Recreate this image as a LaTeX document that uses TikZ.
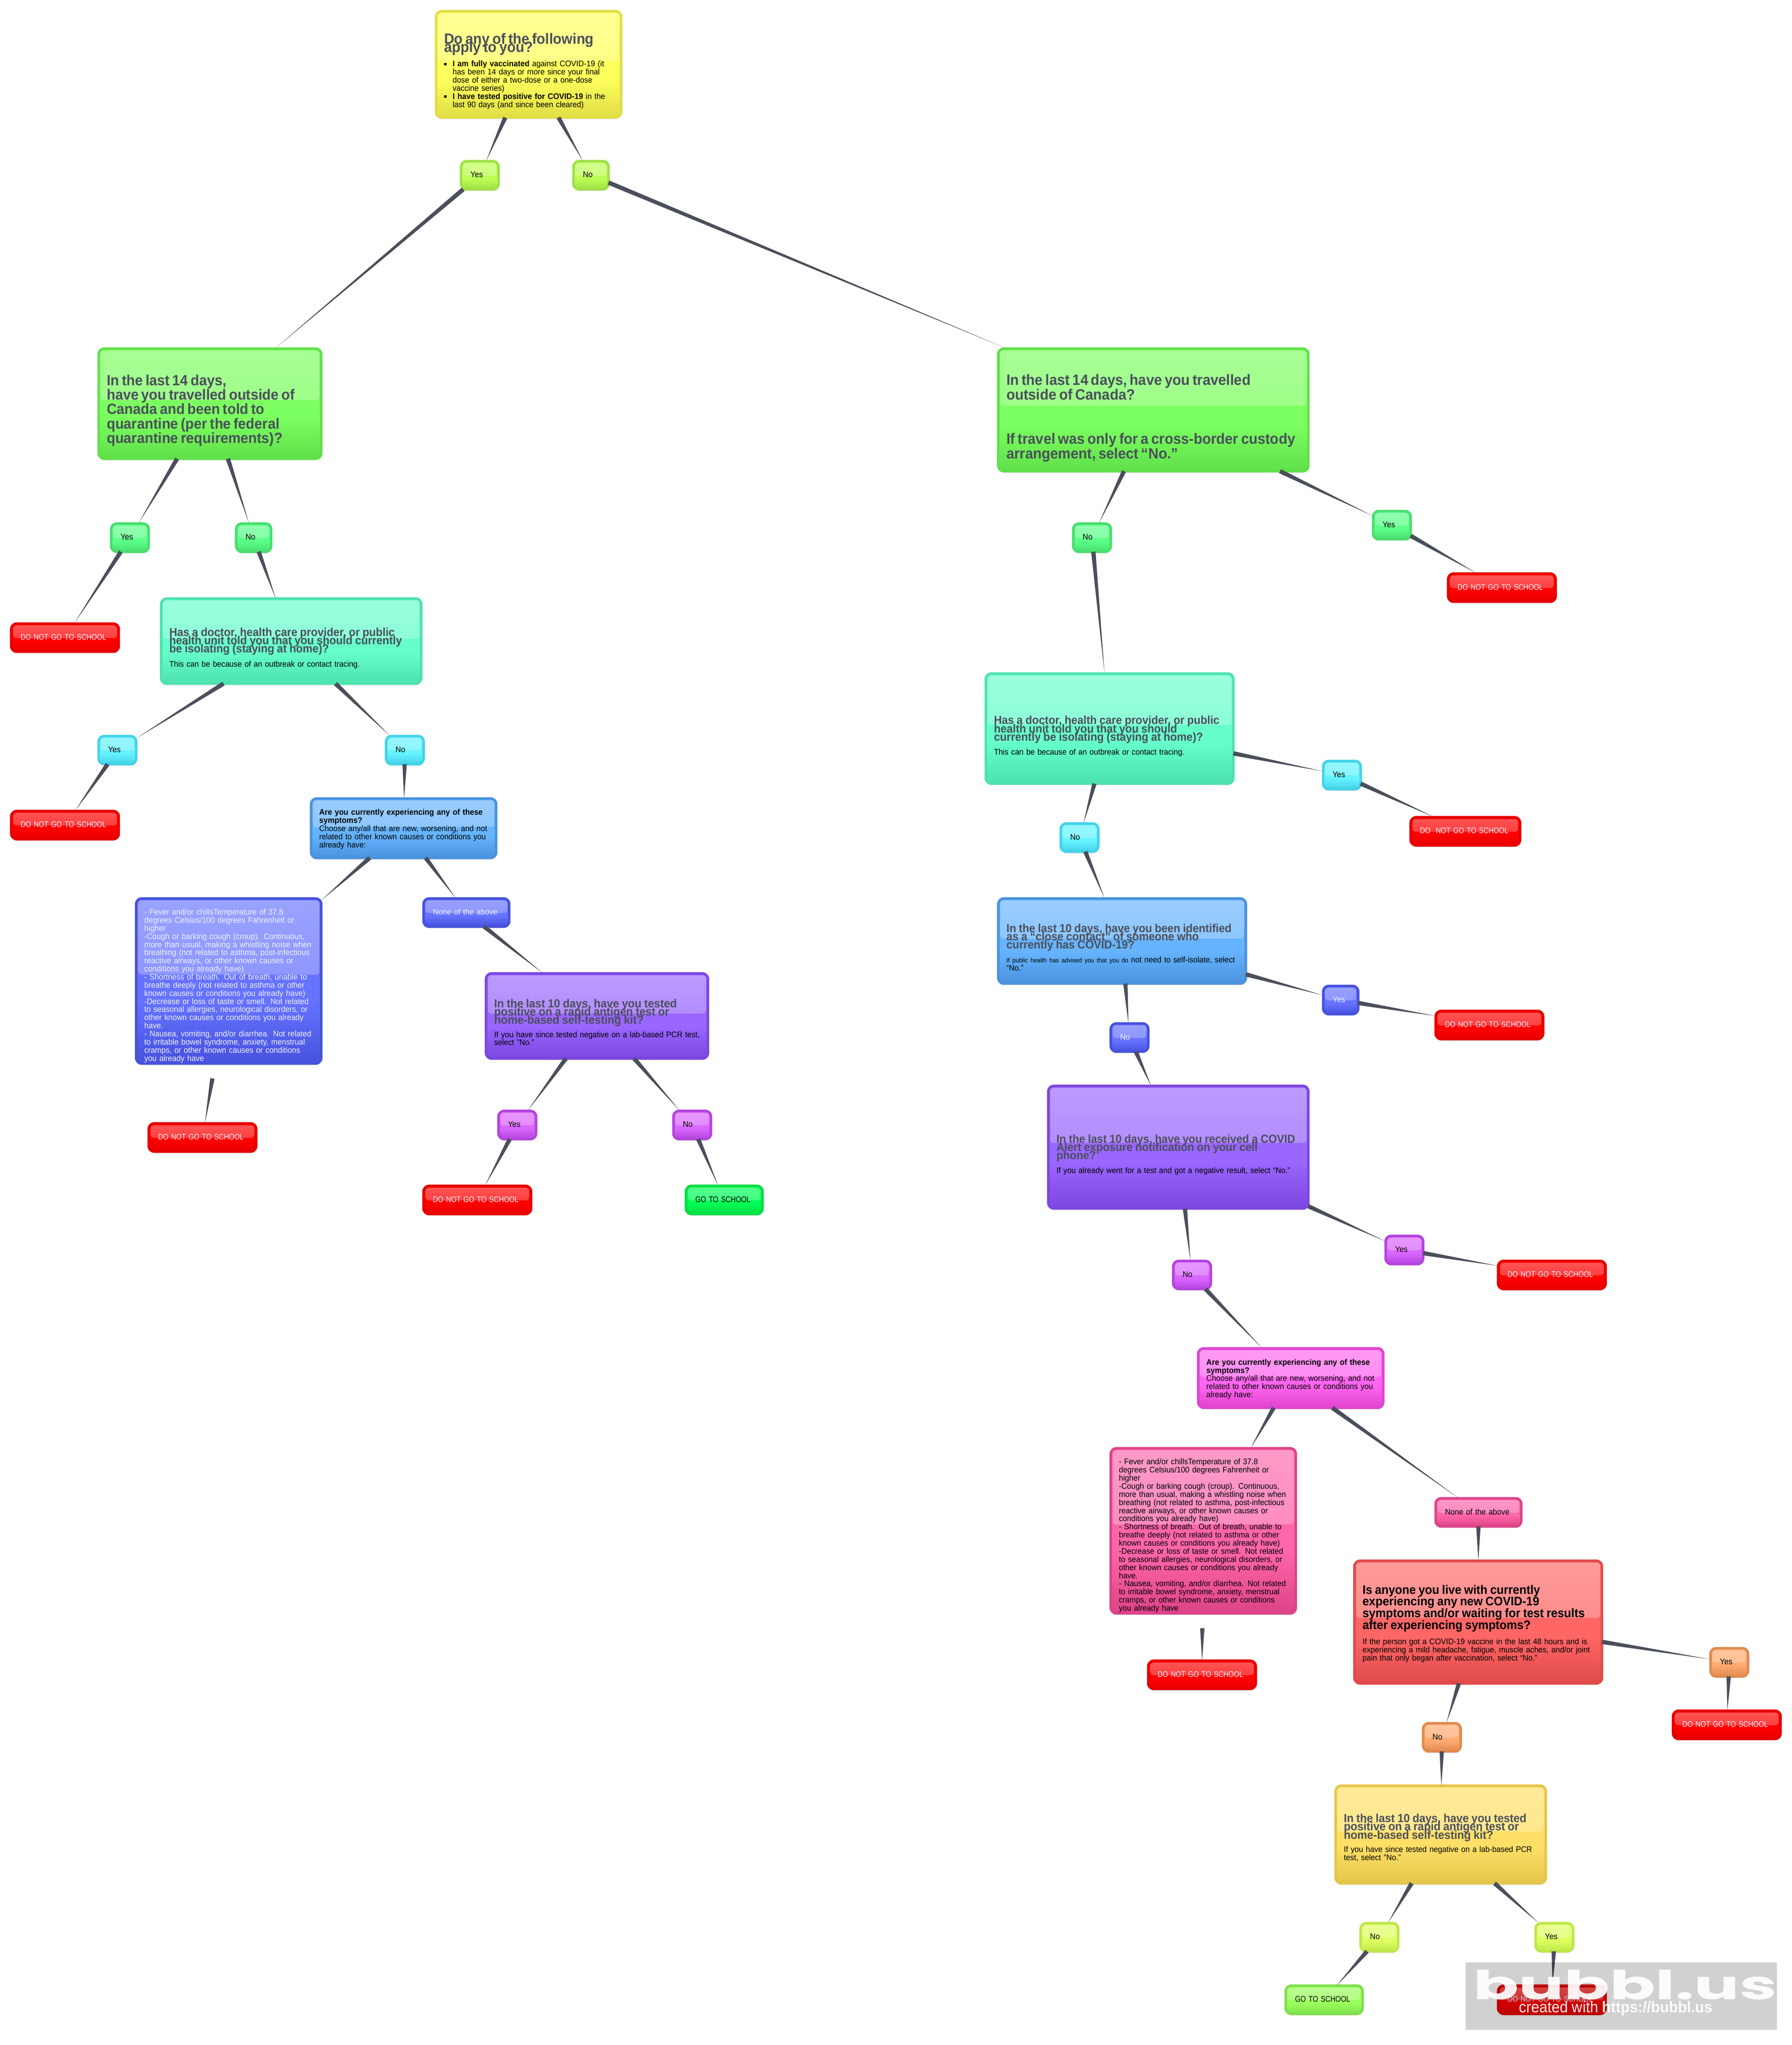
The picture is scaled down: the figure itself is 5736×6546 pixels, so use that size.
\documentclass[tikz,border=0pt]{standalone}
\usepackage{fontspec}
\setmainfont[FakeStretch=0.945]{Liberation Sans}
\newfontfamily\capsfont[FakeStretch=0.855]{Liberation Sans}
\newfontfamily\logofont[FakeStretch=1.68]{Poppins Bold}
\usetikzlibrary{calc,decorations,shadows}

\newlength\pxu
\setlength\pxu{0.28453pt}

\definecolor{linkgrey}{HTML}{4A4F5B}
\definecolor{headgrey}{HTML}{4A4F5B}
\definecolor{softwhite}{HTML}{F0F1FF}

\definecolor{yellowA}{HTML}{FFFF5E}\definecolor{yellowB}{HTML}{E0DE45}
\definecolor{limeA}{HTML}{BCFF55}\definecolor{limeB}{HTML}{A0E048}
\definecolor{grassA}{HTML}{7CFF60}\definecolor{grassB}{HTML}{60E04A}
\definecolor{springA}{HTML}{5CFF88}\definecolor{springB}{HTML}{48DE70}
\definecolor{tealA}{HTML}{66FFCA}\definecolor{tealB}{HTML}{4DE2AD}
\definecolor{cyanA}{HTML}{66F2FF}\definecolor{cyanB}{HTML}{44D2EA}
\definecolor{skyA}{HTML}{66B3FF}\definecolor{skyB}{HTML}{4A92DD}
\definecolor{indigoA}{HTML}{6673FF}\definecolor{indigoB}{HTML}{4652DD}
\definecolor{violetA}{HTML}{9966FF}\definecolor{violetB}{HTML}{7C46E0}
\definecolor{orchidA}{HTML}{D966FF}\definecolor{orchidB}{HTML}{B344DD}
\definecolor{fuchsiaA}{HTML}{FF66EE}\definecolor{fuchsiaB}{HTML}{E044CF}
\definecolor{roseA}{HTML}{FF66AA}\definecolor{roseB}{HTML}{DD4488}
\definecolor{coralA}{HTML}{FF6666}\definecolor{coralB}{HTML}{E04A4A}
\definecolor{amberA}{HTML}{FFAA70}\definecolor{amberB}{HTML}{E08A4F}
\definecolor{goldA}{HTML}{FFDF66}\definecolor{goldB}{HTML}{E3C64A}
\definecolor{citronA}{HTML}{DDFF60}\definecolor{citronB}{HTML}{BFE64A}
\definecolor{redA}{HTML}{FF0000}\definecolor{redB}{HTML}{E60000}
\definecolor{goA}{HTML}{00FF55}\definecolor{goB}{HTML}{00DD44}
\definecolor{mossA}{HTML}{99FF5C}\definecolor{mossB}{HTML}{7FE04C}

\pgfdeclareverticalshading[bubbletop,bubblelow]{bubbleshade}{100bp}{
  color(0bp)=(bubblelow); color(25bp)=(bubblelow); color(44bp)=(bubbletop); color(100bp)=(bubbletop)}

\pgfdeclaredecoration{wedgeline}{initial}{
  \state{initial}[width=\pgfdecoratedpathlength-0.01pt,next state=final]{
    \pgfpathmoveto{\pgfpoint{0pt}{2pt}}
    \pgfpathlineto{\pgfpoint{0pt}{-2pt}}
    \pgfpathlineto{\pgfpoint{\pgfdecoratedpathlength}{0pt}}
    \pgfpathclose
  }
  \state{final}{}
}

\tikzset{
  link/.style={fill=linkgrey,decorate,decoration=wedgeline},
  skin/.code 2 args={\def\glossbase{#1}\colorlet{bubbletop}{#1}\colorlet{bubblelow}{#2}\tikzset{shade,shading=bubbleshade,draw=#2}},
  sized/.style n args={3}{
    minimum width=(#1-8)*0.28453pt,minimum height=(#2-8)*0.28453pt,
    text width=(#1-8)*0.28453pt,
    text height=(#3-4)*0.28453pt,text depth=(#2-#3-4)*0.28453pt},
  pad/.style={execute at begin node={\leftskip=\dimexpr#1\pxu-4\pxu\relax\lineskiplimit=-1000pt\relax}},
  bubble/.style={
    rectangle,anchor=north west,xshift=1.14pt,yshift=-1.14pt,
    inner sep=0pt,outer sep=0pt,line width=8\pxu,rounded corners=5pt,align=left,
    font=\fontsize{26\pxu}{26\pxu}\selectfont,
    drop shadow={shadow xshift=0pt,shadow yshift=-1.6pt,opacity=.22,fill=black!45},
    path picture={
      \shade[top color=\glossbase!66!white,bottom color=\glossbase!84!white,rounded corners=3pt]
        ($(path picture bounding box.north west)+(1.7pt,-1.7pt)$) rectangle
        ($(path picture bounding box.north east)!0.45!(path picture bounding box.south east)+(-1.7pt,-1.7pt)$);}},
  ask/.style n args={3}{bubble,sized={#1}{#2}{#3},pad=30},
  ans/.style 2 args={bubble,sized={#1}{#2}{56},pad=34},
  caps/.style={font=\capsfont\fontsize{26\pxu}{26\pxu}\selectfont},
  stop/.style={ans={352}{98},skin={redA}{redB},caps,text=softwhite}
}

\newcommand{\qhead}[4][headgrey]{{\fontsize{#2\pxu}{#3\pxu}\selectfont\bfseries\color{#1}#4\par}}
\newcommand{\sqbullet}{\noindent\llap{\raisebox{4\pxu}{\rule{8\pxu}{8\pxu}}\hspace{19\pxu}}}
\newcommand{\symptomlist}{- Fever and/or chillsTemperature of 37.8\\
degrees Celsius/100 degrees Fahrenheit or\\
higher\\
-Cough or barking cough (croup). Continuous,\\
more than usual, making a whistling noise when\\
breathing (not related to asthma, post-infectious\\
reactive airways, or other known causes or\\
conditions you already have)\\
- Shortness of breath. Out of breath, unable to\\
breathe deeply (not related to asthma or other\\
known causes or conditions you already have)\\
-Decrease or loss of taste or smell. Not related\\
to seasonal allergies, neurological disorders, or\\
other known causes or conditions you already\\
have.\\
- Nausea, vomiting, and/or diarrhea. Not related\\
to irritable bowel syndrome, anxiety, menstrual\\
cramps, or other known causes or conditions\\
you already have}
\newcommand{\symptomask}{\textbf{Are you currently experiencing any of these\\
symptoms?}\\
Choose any/all that are new, worsening, and not\\
related to other known causes or conditions you\\
already have:}
\newcommand{\tealbody}{This can be because of an outbreak or contact tracing.}

\begin{document}
\begin{tikzpicture}[x=0.01cm,y=-0.01cm]
\path[fill=white,use as bounding box] (0,0) rectangle (5736,6546);

% first question
\node[ask={600}{348}{109},skin={yellowA}{yellowB}] (root) at (1392,32) {%
\qhead{47.5}{26}{Do any of the following\\apply to you?}\vspace{20\pxu}%
{\leftskip=\dimexpr26\pxu+27\pxu\relax
\sqbullet\textbf{I am fully vaccinated} against COVID-19 (it\\
has been 14 days or more since your final\\
dose of either a two-dose or a one-dose\\
vaccine series)\par
\sqbullet\textbf{I have tested positive for COVID-19} in the\\
last 90 days (and since been cleared)\par}};
\node[ans={128}{98},skin={limeA}{limeB}] (yesa) at (1472,512) {Yes};
\node[ans={120}{98},skin={limeA}{limeB}] (noa) at (1832,512) {No};

% vaccinated branch
\node[ask={720}{360}{122},skin={grassA}{grassB}] (travelq) at (312,1112) {%
\qhead{47.3}{46}{In the last 14 days,\\have you travelled outside of\\Canada and been told to\\quarantine (per the federal\\quarantine requirements)?}};
\node[ans={128}{98},skin={springA}{springB}] (yesb) at (352,1672) {Yes};
\node[ans={120}{98},skin={springA}{springB}] (nob) at (752,1672) {No};
\node[stop] (stopa) at (32,1992) {DO NOT GO TO SCHOOL};
\node[ask={840}{280}{124},skin={tealA}{tealB}] (isolq) at (512,1912) {%
\qhead{37}{26.5}{Has a doctor, health care provider, or public\\health unit told you that you should currently\\be isolating (staying at home)?}\vspace{20\pxu}%
\tealbody};
\node[ans={128}{98},skin={cyanA}{cyanB}] (yesc) at (312,2352) {Yes};
\node[ans={128}{98},skin={cyanA}{cyanB}] (noc) at (1232,2352) {No};
\node[stop] (stopb) at (32,2592) {DO NOT GO TO SCHOOL};
\node[ask={600}{198}{57},skin={skyA}{skyB}] (sympq) at (992,2552) {\symptomask};
\node[ask={600}{536}{56},skin={indigoA}{indigoB},text=softwhite] (sympl) at (432,2872) {\symptomlist};
\coordinate (symplend) at (680,3452);
\node[ans={282}{98},skin={indigoA}{indigoB},text=softwhite] (nonea) at (1352,2872) {None of the above};
\node[stop] (stopc) at (472,3592) {DO NOT GO TO SCHOOL};
\node[ask={718}{280}{113},skin={violetA}{violetB}] (rapidq) at (1552,3112) {%
\qhead{37.5}{26}{In the last 10 days, have you tested\\positive on a rapid antigen test or\\home-based self-testing kit?}\vspace{17\pxu}%
If you have since tested negative on a lab-based PCR test,\\select "No."};
\node[ans={128}{98},skin={orchidA}{orchidB}] (yesd) at (1592,3552) {Yes};
\node[ans={128}{98},skin={orchidA}{orchidB}] (nod) at (2152,3552) {No};
\node[stop] (stopd) at (1352,3792) {DO NOT GO TO SCHOOL};
\node[ans={253}{98},skin={goA}{goB},caps] (goa) at (2192,3792) {GO TO SCHOOL};

% not vaccinated branch
\node[ask={1000}{400}{121},skin={grassA}{grassB}] (travelr) at (3192,1112) {%
\qhead{47.8}{47}{In the last 14 days, have you travelled\\outside of Canada?}\vspace{94\pxu}%
\qhead{47.8}{47}{If travel was only for a cross-border custody\\arrangement, select “No.”}};
\node[ans={128}{98},skin={springA}{springB}] (noe) at (3432,1672) {No};
\node[ans={128}{98},skin={springA}{springB}] (yese) at (4392,1632) {Yes};
\node[stop] (stope) at (4632,1832) {DO NOT GO TO SCHOOL};
\node[ask={800}{360}{166},skin={tealA}{tealB}] (isolr) at (3152,2152) {%
\qhead{37}{27}{Has a doctor, health care provider, or public\\health unit told you that you should\\currently be isolating (staying at home)?}\vspace{18\pxu}%
\tealbody};
\node[ans={128}{98},skin={cyanA}{cyanB}] (yesf) at (4232,2432) {Yes};
\node[ans={128}{98},skin={cyanA}{cyanB}] (nof) at (3392,2632) {No};
\node[ans={358}{98},skin={redA}{redB},caps,text=softwhite] (stopf) at (4512,2612) {DO \ NOT GO TO SCHOOL};
\node[ask={800}{280}{112},skin={skyA}{skyB}] (contactq) at (3192,2872) {%
\qhead{37}{26.5}{In the last 10 days, have you been identified\\as a “close contact” of someone who\\currently has COVID-19?}\vspace{18\pxu}%
{\fontsize{20\pxu}{26\pxu}\selectfont If public health has advised you that you do} not need to self-isolate, select\\“No.”};
\node[ans={128}{98},skin={indigoA}{indigoB},text=softwhite] (nog) at (3552,3272) {No};
\node[ans={120}{98},skin={indigoA}{indigoB},text=softwhite] (yesg) at (4232,3152) {Yes};
\node[stop] (stopg) at (4592,3232) {DO NOT GO TO SCHOOL};
\node[ask={840}{400}{187},skin={violetA}{violetB}] (alertq) at (3352,3472) {%
\qhead{37}{26}{In the last 10 days, have you received a COVID\\Alert exposure notification on your cell\\phone?}\vspace{18\pxu}%
If you already went for a test and got a negative result, select “No.”};
\node[ans={128}{98},skin={orchidA}{orchidB}] (noh) at (3752,4032) {No};
\node[ans={128}{98},skin={orchidA}{orchidB}] (yesh) at (4432,3952) {Yes};
\node[stop] (stoph) at (4792,4032) {DO NOT GO TO SCHOOL};
\node[ask={600}{198}{57},skin={fuchsiaA}{fuchsiaB}] (sympr) at (3832,4312) {\symptomask};
\node[ask={600}{536}{56},skin={roseA}{roseB}] (symps) at (3552,4632) {\symptomlist};
\coordinate (sympsend) at (3849,5212);
\node[ans={282}{98},skin={roseA}{roseB}] (noneb) at (4592,4792) {None of the above};
\node[stop] (stopi) at (3672,5312) {DO NOT GO TO SCHOOL};
\node[ask={800}{400}{110},skin={coralA}{coralB}] (liveq) at (4332,4992) {%
\qhead[black]{39.5}{37.7}{Is anyone you live with currently\\experiencing any new COVID-19\\symptoms and/or waiting for test results\\after experiencing symptoms?}\vspace{22\pxu}%
If the person got a COVID-19 vaccine in the last 48 hours and is\\experiencing a mild headache, fatigue, muscle aches, and/or joint\\pain that only began after vaccination, select “No.”};
\node[ans={128}{98},skin={amberA}{amberB}] (yesj) at (5472,5272) {Yes};
\node[ans={128}{98},skin={amberA}{amberB}] (noj) at (4552,5512) {No};
\node[stop] (stopj) at (5352,5472) {DO NOT GO TO SCHOOL};
\node[ask={680}{320}{121},skin={goldA}{goldB}] (rapidr) at (4272,5712) {%
\qhead{37.5}{26.5}{In the last 10 days, have you tested\\positive on a rapid antigen test or\\home-based self-testing kit?}\vspace{17\pxu}%
If you have since tested negative on a lab-based PCR\\test, select "No."};
\node[ans={128}{98},skin={citronA}{citronB}] (nok) at (4352,6152) {No};
\node[ans={128}{98},skin={citronA}{citronB}] (yesk) at (4912,6152) {Yes};
\node[ans={254}{98},skin={mossA}{mossB},caps] (gob) at (4112,6352) {GO TO SCHOOL};
\node[stop] (stopk) at (4792,6352) {DO NOT GO TO SCHOOL};

\path[every edge/.style={link}]
(root) edge (yesa) edge (noa)
(yesa) edge (travelq)
(noa) edge (travelr)
(travelq) edge (yesb) edge (nob)
(yesb) edge (stopa)
(nob) edge (isolq)
(isolq) edge (yesc) edge (noc)
(yesc) edge (stopb)
(noc) edge (sympq)
(sympq) edge (sympl) edge (nonea)
(symplend) edge (stopc)
(nonea) edge (rapidq)
(rapidq) edge (yesd) edge (nod)
(yesd) edge (stopd)
(nod) edge (goa)
(travelr) edge (noe) edge (yese)
(yese) edge (stope)
(noe) edge (isolr)
(isolr) edge (yesf) edge (nof)
(yesf) edge (stopf)
(nof) edge (contactq)
(contactq) edge (nog) edge (yesg)
(yesg) edge (stopg)
(nog) edge (alertq)
(alertq) edge (noh) edge (yesh)
(yesh) edge (stoph)
(noh) edge (sympr)
(sympr) edge (symps) edge (noneb)
(sympsend) edge (stopi)
(noneb) edge (liveq)
(liveq) edge (yesj) edge (noj)
(yesj) edge (stopj)
(noj) edge (rapidr)
(rapidr) edge (nok) edge (yesk)
(nok) edge (gob)
(yesk) edge (stopk);

% watermark
\node[rectangle,anchor=north west,inner sep=0pt,outer sep=0pt,fill=black,fill opacity=.18,text=white,text opacity=.92,
      align=left,sized={1004}{223}{122},pad=28,minimum width=996\pxu,minimum height=215\pxu,text width=996\pxu,text depth=97\pxu,text height=118\pxu] (stamp) at (4692,6282) {%
{\logofont\fontsize{128\pxu}{60\pxu}\selectfont bubbl.us\par}%
\hspace*{147\pxu}{\fontsize{50\pxu}{60\pxu}\selectfont created with \textbf{https://bubbl.us}}};
\end{tikzpicture}
\end{document}
